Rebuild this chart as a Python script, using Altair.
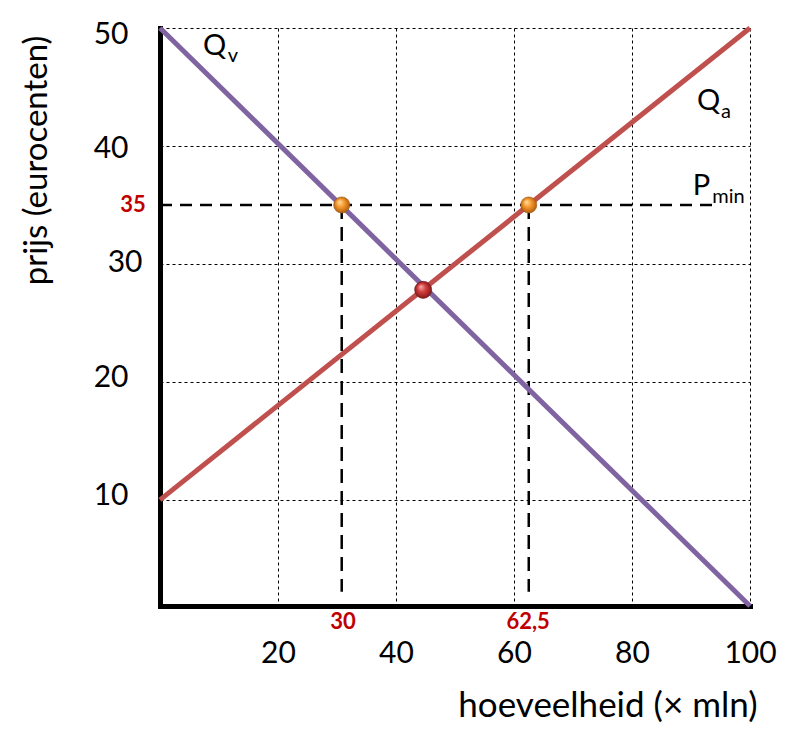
import altair as alt
import pandas as pd

# ---- data ----
qty_ticks = [20, 40, 60, 80, 100]
price_ticks = [10, 20, 30, 40, 50]
demand_q = [0, 100]
demand_p = [50, 1]
supply_q = [0, 100]
supply_p = [10, 50]
pmin_price = 35
pmin_q_range = [0, 93.7]
surplus_q = [30.8, 62.5]
drop_bottom = 2.2
eq_q = [44.6]
eq_p = [27.8]
red_price_label = ["35"]
red_qty_labels = ["30", "62,5"]

FONT = "Lato"

demand_df = pd.DataFrame({"q": demand_q, "p": demand_p})
supply_df = pd.DataFrame({"q": supply_q, "p": supply_p})
pmin_df = pd.DataFrame({"q": [pmin_q_range[0]], "q2": [pmin_q_range[1]], "p": [pmin_price]})
drop_df = pd.DataFrame({"q": surplus_q, "p": [pmin_price] * 2, "p2": [drop_bottom] * 2})
pts_df = pd.DataFrame({"q": surplus_q, "p": [pmin_price] * 2})
eq_df = pd.DataFrame({"q": eq_q, "p": eq_p})
lab35_df = pd.DataFrame({"q": [-2.4], "p": [pmin_price], "t": red_price_label})
labq_df = pd.DataFrame({"q": [31, 62.4], "p": [-0.35, -0.35], "t": red_qty_labels})

xscale = alt.Scale(domain=[0, 100], nice=False, zero=False)
yscale = alt.Scale(domain=[1, 50], nice=False, zero=False)

xaxis = alt.Axis(values=qty_ticks, grid=True, gridDash=[3, 3], gridColor="black", gridWidth=1,
                 domainColor="black", domainWidth=5, domainCap="square", ticks=False,
                 labelFont=FONT, labelFontSize=30, labelPadding=32, labelColor="black",
                 labelFlush=False,
                 title="hoeveelheid (× mln)", titleFont=FONT, titleFontSize=35,
                 titleFontWeight="normal", titleColor="black", titleAnchor="end",
                 titleAlign="right", titleBaseline="alphabetic", titleX=597, titleY=110)
yaxis = alt.Axis(values=price_ticks, grid=True, gridDash=[3, 3], gridColor="black", gridWidth=1,
                 domainColor="black", domainWidth=5, domainCap="square", ticks=False,
                 labelFont=FONT, labelFontSize=30, labelColor="black", labelFlush=False,
                 labelPadding={"condition": {"test": "datum.value === 30", "value": 18}, "value": 32},
                 labelOffset={"condition": [{"test": "datum.value === 50", "value": 6},
                                            {"test": "datum.value === 40", "value": 3},
                                            {"test": "datum.value === 30", "value": -1}],
                              "value": -4},
                 labelAlign="right", labelBaseline="middle",
                 title="prijs (eurocenten)", titleFont=FONT, titleFontSize=33,
                 titleFontWeight="normal", titleColor="black", titleAngle=270,
                 titleAlign="center", titleBaseline="alphabetic", titleX=-114, titleY=132)


def X():
    return alt.X("q:Q", scale=xscale, axis=xaxis)


def Y():
    return alt.Y("p:Q", scale=yscale, axis=yaxis)


pmin_line = alt.Chart(pmin_df).mark_rule(color="black", strokeWidth=2.5, strokeDash=[12, 8]).encode(
    x=X(), x2="q2:Q", y=Y())
drop_lines = alt.Chart(drop_df).mark_rule(color="black", strokeWidth=2.5, strokeDash=[14, 8]).encode(
    x=X(), y=Y(), y2="p2:Q")

demand = alt.Chart(demand_df).mark_line(color="#8064A2", strokeWidth=5).encode(x=X(), y=Y())
supply = alt.Chart(supply_df).mark_line(color="#C0504D", strokeWidth=5).encode(x=X(), y=Y())

orange_grad = {"gradient": "radial", "x1": 0.35, "y1": 0.3, "r1": 0, "x2": 0.5, "y2": 0.5, "r2": 0.55,
               "stops": [{"offset": 0, "color": "#FFE3B0"}, {"offset": 0.45, "color": "#F79A2E"},
                         {"offset": 1, "color": "#A9560A"}]}
red_grad = {"gradient": "radial", "x1": 0.35, "y1": 0.3, "r1": 0, "x2": 0.5, "y2": 0.5, "r2": 0.55,
            "stops": [{"offset": 0, "color": "#F7B0B0"}, {"offset": 0.45, "color": "#D23C3C"},
                      {"offset": 1, "color": "#7A1414"}]}

pts = alt.Chart(pts_df).mark_point(shape="circle", filled=True, fill=orange_grad, size=260, opacity=1,
                                   stroke="#9A5A10", strokeWidth=0.6).encode(x=X(), y=Y())
eq_pt = alt.Chart(eq_df).mark_point(shape="circle", filled=True, fill=red_grad, size=290, opacity=1,
                                    stroke="#6A1010", strokeWidth=0.6).encode(x=X(), y=Y())

lab35 = alt.Chart(lab35_df).mark_text(font=FONT, fontSize=22, fontWeight="bold", color="#C00000",
                                      align="right", baseline="middle").encode(x=X(), y=Y(), text="t:N")
labq = alt.Chart(labq_df).mark_text(font=FONT, fontSize=22, fontWeight="bold", color="#C00000",
                                    align="center", baseline="middle").encode(x=X(), y=Y(), text="t:N")

# curve names with subscripts
main_df = pd.DataFrame({"q": [7.3, 91.0, 90.3], "p": [47.7, 43.05, 35.85], "t": ["Q", "Q", "P"]})
sub_df = pd.DataFrame({"q": [11.5, 95.1, 93.6], "p": [47.1, 42.4, 35.2], "t": ["v", "a", "min"]})
main_txt = alt.Chart(main_df).mark_text(font=FONT, fontSize=29, color="black", align="left",
                                        baseline="alphabetic").encode(x=X(), y=Y(), text="t:N")
sub_txt = alt.Chart(sub_df).mark_text(font=FONT, fontSize=20, color="black", align="left",
                                      baseline="alphabetic").encode(x=X(), y=Y(), text="t:N")

chart = alt.layer(pmin_line, drop_lines, demand, supply, pts, eq_pt,
                  lab35, labq, main_txt, sub_txt).properties(
    width=590, height=578,
    autosize=alt.AutoSizeParams(type="none"),
    padding={"left": 152, "top": 20, "right": 42, "bottom": 125},
).configure_view(stroke=None)

chart.save("out.html", embed_options={"renderer": "svg", "actions": False})
